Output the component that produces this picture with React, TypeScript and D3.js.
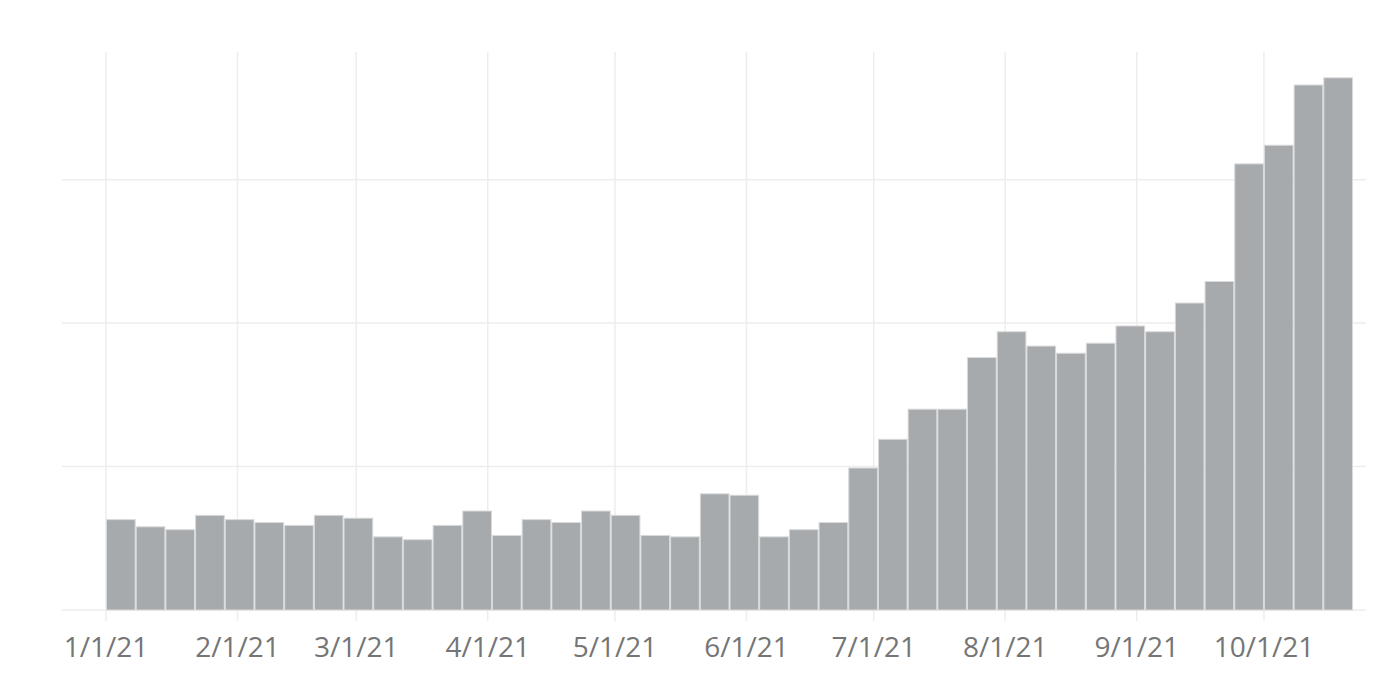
import React from "react";
import * as d3 from "d3";

const weekStarts: string[] = [
  "2021-01-01","2021-01-08","2021-01-15","2021-01-22","2021-01-29","2021-02-05","2021-02-12",
  "2021-02-19","2021-02-26","2021-03-05","2021-03-12","2021-03-19","2021-03-26","2021-04-02",
  "2021-04-09","2021-04-16","2021-04-23","2021-04-30","2021-05-07","2021-05-14","2021-05-21",
  "2021-05-28","2021-06-04","2021-06-11","2021-06-18","2021-06-25","2021-07-02","2021-07-09",
  "2021-07-16","2021-07-23","2021-07-30","2021-08-06","2021-08-13","2021-08-20","2021-08-27",
  "2021-09-03","2021-09-10","2021-09-17","2021-09-24","2021-10-01","2021-10-08","2021-10-15",
];
const values: number[] = [
  63, 58, 56, 66, 63, 61, 59, 66, 64, 51, 49, 59, 69, 52,
  63, 61, 69, 66, 52, 51, 81, 80, 51, 56, 61, 99, 119, 140,
  140, 176, 194, 184, 179, 186, 198, 194, 214, 229, 311, 324, 366, 371,
];
const tickLabels: string[] = ["1/1/21","2/1/21","3/1/21","4/1/21","5/1/21","6/1/21","7/1/21","8/1/21","9/1/21","10/1/21"];
const tickDates: string[] = ["2021-01-01","2021-02-01","2021-03-01","2021-04-01","2021-05-01","2021-06-01","2021-07-01","2021-08-01","2021-09-01","2021-10-01"];
const yGrid: number[] = [0, 100, 200, 300];

const W = 1390, H = 686;
const parse = d3.utcParse("%Y-%m-%d");

export default function App() {
  const x = d3.scaleUtc()
    .domain([parse("2021-01-01")!, parse("2021-10-22")!])
    .range([106, 1353]);
  const y = d3.scaleLinear().domain([0, 389]).range([610, 52]);
  const gridLeft = 62, gridRight = 1366;

  return (
    <svg width={W} height={H} style={{ position: "absolute", left: 0, top: 0, background: "#fff" }}>
      {yGrid.map((v) => (
        <line key={"h" + v} x1={gridLeft} x2={gridRight} y1={y(v)} y2={y(v)} stroke="#ededed" strokeWidth={1.5} />
      ))}
      {tickDates.map((d) => {
        const xx = x(parse(d)!);
        return <line key={"v" + d} x1={xx} x2={xx} y1={52} y2={621} stroke="#ededed" strokeWidth={1.5} />;
      })}
      {weekStarts.map((d, i) => {
        const x0 = x(parse(d)!);
        const x1 = x(d3.utcDay.offset(parse(d)!, 7));
        return (
          <rect key={d} x={x0 + 0.5} width={x1 - x0 - 1} y={y(values[i])} height={y(0) - y(values[i])}
            fill="#a7aaad" stroke="#d9dadb" strokeWidth={1} />
        );
      })}
      {tickDates.map((d, i) => (
        <text key={"t" + d} x={x(parse(d)!)} y={657} textAnchor="middle" fontFamily="'Open Sans', sans-serif"
          fontSize={28} fill="#757575">{tickLabels[i]}</text>
      ))}
    </svg>
  );
}
